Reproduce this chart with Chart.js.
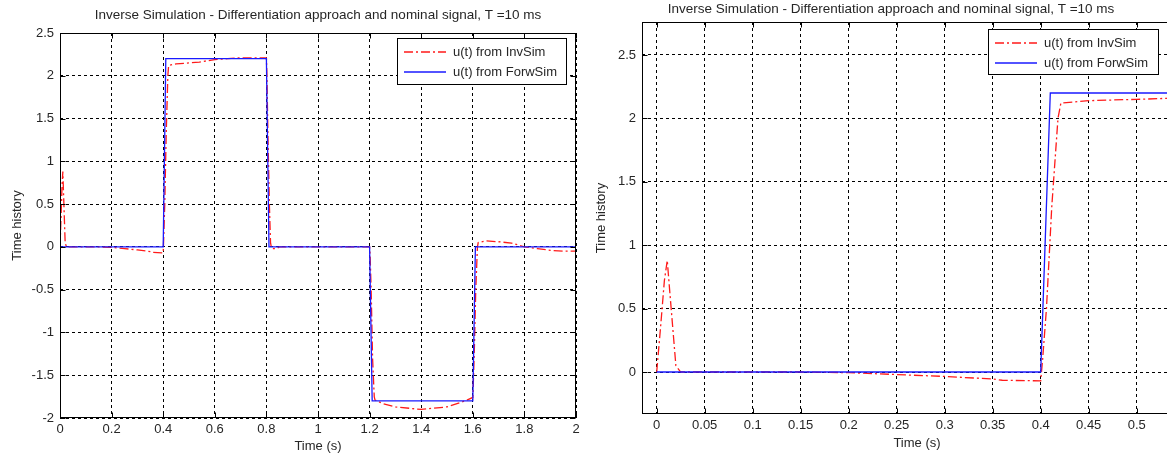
<!DOCTYPE html>
<html>
<head>
<meta charset="utf-8">
<title>Inverse Simulation</title>
<script src="https://cdn.jsdelivr.net/npm/chart.js@4.4.0/dist/chart.umd.min.js"></script>
<style>
  html, body { margin: 0; padding: 0; background: #fff; overflow: hidden; width: 1167px; height: 456px; }
  .plot { position: absolute; top: 0; height: 456px; }
  #leftBox { left: 0; width: 636px; }
  #rightBox { left: 590px; width: 602px; }
</style>
</head>
<body>
<div class="plot" id="leftBox"><canvas id="leftChart"></canvas></div>
<div class="plot" id="rightBox"><canvas id="rightChart"></canvas></div>
<script>
const chartTitle = "Inverse Simulation - Differentiation approach and nominal signal, T =10 ms";
const xAxisLabel = "Time (s)";
const yAxisLabel = "Time history";
const seriesNames = ["u(t) from InvSim", "u(t) from ForwSim"];

// u(t) from InvSim (red, dash-dot)
const invTime = [0, 0.004, 0.008, 0.011, 0.014, 0.02, 0.025, 0.15, 0.2, 0.25, 0.3, 0.35, 0.36, 0.4,
  0.402, 0.406, 0.4115, 0.418, 0.421, 0.45, 0.5, 0.54, 0.6, 0.65, 0.7, 0.8,
  0.802, 0.806, 0.8115, 0.816, 0.82, 0.84, 0.85, 1.2,
  1.202, 1.206, 1.2115, 1.218, 1.221, 1.25, 1.3, 1.4, 1.5, 1.57, 1.6,
  1.602, 1.606, 1.6115, 1.618, 1.621, 1.65, 1.7, 1.75, 1.8, 1.85, 1.9, 1.95, 2.0];
const invValue = [0, 0.35, 0.72, 0.88, 0.6, 0.05, 0, 0, -0.005, -0.02, -0.035, -0.055, -0.065, -0.07,
  0.1, 0.5, 1.3, 2.0, 2.12, 2.14, 2.15, 2.16, 2.19, 2.2, 2.21, 2.21,
  2.0, 1.3, 0.5, 0.05, -0.02, -0.02, 0, 0,
  -0.1, -0.5, -1.3, -1.75, -1.79, -1.83, -1.87, -1.9, -1.87, -1.8, -1.76,
  -1.6, -1.2, -0.5, 0.0, 0.05, 0.07, 0.06, 0.045, 0.0, -0.02, -0.04, -0.05, -0.05];

// u(t) from ForwSim (blue, solid)
const fwdTime = [0, 0.4, 0.41, 0.8, 0.81, 1.2, 1.21, 1.6, 1.61, 2.0];
const fwdValue = [0, 0, 2.2, 2.2, 0, 0, -1.8, -1.8, 0, 0];

const leftXTicks = [0, 0.2, 0.4, 0.6, 0.8, 1, 1.2, 1.4, 1.6, 1.8, 2];
const leftYTicks = [-2, -1.5, -1, -0.5, 0, 0.5, 1, 1.5, 2, 2.5];
const rightXTicks = [0, 0.05, 0.1, 0.15, 0.2, 0.25, 0.3, 0.35, 0.4, 0.45, 0.5];
const rightYTicks = [0, 0.5, 1, 1.5, 2, 2.5];

Chart.defaults.font.family = "'Liberation Sans', Arial, sans-serif";
Chart.defaults.font.size = 13;
Chart.defaults.color = "#262626";

const fmt = v => String(Number(v.toFixed(2)));

// axes box with inward tick marks, like the original figure
const axesFrame = {
  id: "axesFrame",
  afterDatasetsDraw(chart) {
    const { ctx, chartArea: a, scales } = chart;
    const L = Math.round(a.left) + 0.5, R = Math.round(a.right) - 0.5;
    const T = Math.round(a.top) + 0.5, B = Math.round(a.bottom) - 0.5;
    ctx.save();
    ctx.strokeStyle = "#000";
    ctx.lineWidth = 1;
    ctx.strokeRect(L, T, R - L, B - T);
    ctx.beginPath();
    scales.x.ticks.forEach(t => {
      const px = Math.round(scales.x.getPixelForValue(t.value)) + 0.5;
      ctx.moveTo(px, B); ctx.lineTo(px, B - 5);
      ctx.moveTo(px, T); ctx.lineTo(px, T + 5);
    });
    scales.y.ticks.forEach(t => {
      const py = Math.round(scales.y.getPixelForValue(t.value)) + 0.5;
      ctx.moveTo(L, py); ctx.lineTo(L + 5, py);
      ctx.moveTo(R, py); ctx.lineTo(R - 5, py);
    });
    ctx.stroke();
    ctx.restore();
  }
};

// boxed legend drawn inside the axes
const boxLegend = {
  id: "boxLegend",
  afterDraw(chart, args, o) {
    const ctx = chart.ctx;
    ctx.save();
    ctx.fillStyle = "#fff";
    ctx.fillRect(o.x, o.y, o.w, o.h);
    ctx.strokeStyle = "#000";
    ctx.lineWidth = 1;
    ctx.strokeRect(o.x + 0.5, o.y + 0.5, o.w, o.h);
    chart.data.datasets.forEach((ds, i) => {
      const cy = o.y + o.rowTop + i * o.rowGap;
      ctx.strokeStyle = ds.borderColor;
      ctx.lineWidth = ds.borderWidth;
      ctx.setLineDash(ds.borderDash || []);
      ctx.beginPath();
      ctx.moveTo(o.x + o.sampleX, cy);
      ctx.lineTo(o.x + o.sampleX + o.sampleLen, cy);
      ctx.stroke();
      ctx.setLineDash([]);
      ctx.fillStyle = "#262626";
      ctx.font = "13px 'Liberation Sans', Arial, sans-serif";
      ctx.textBaseline = "middle";
      ctx.fillText(ds.label, o.x + o.textX, cy);
    });
    ctx.restore();
  }
};

function buildChart(canvasId, s) {
  return new Chart(document.getElementById(canvasId), {
    type: "line",
    data: {
      datasets: [
        {
          label: seriesNames[0],
          data: invTime.map((t, i) => ({ x: t, y: invValue[i] })),
          borderColor: "#ff1a1a",
          borderWidth: 1.3,
          borderDash: [9, 3, 2, 3],
          pointRadius: 0,
          tension: 0,
          order: 1
        },
        {
          label: seriesNames[1],
          data: fwdTime.map((t, i) => ({ x: t, y: fwdValue[i] })),
          borderColor: "#1a1aff",
          borderWidth: 1.3,
          pointRadius: 0,
          tension: 0,
          order: 0
        }
      ]
    },
    options: {
      responsive: true,
      maintainAspectRatio: false,
      animation: false,
      devicePixelRatio: 1,
      layout: { padding: { left: 0, right: s.padRight, top: 0, bottom: 0 } },
      scales: {
        x: {
          type: "linear",
          min: s.xMin,
          max: s.xMax,
          afterBuildTicks: sc => { sc.ticks = s.xTicks.map(v => ({ value: v })); },
          afterFit: sc => { sc.height = s.xAxisHeight; },
          ticks: { callback: v => fmt(v), padding: 4, maxRotation: 0, minRotation: 0, autoSkip: false },
          grid: { color: "#000", lineWidth: 1, drawTicks: false },
          border: { display: false, dash: [3, 3] },
          title: { display: true, text: xAxisLabel, padding: { top: 0, bottom: s.xTitlePad } }
        },
        y: {
          type: "linear",
          min: s.yMin,
          max: s.yMax,
          afterBuildTicks: sc => { sc.ticks = s.yTicks.map(v => ({ value: v })); },
          afterFit: sc => { sc.width = s.yAxisWidth; },
          ticks: { callback: v => fmt(v), padding: 6, autoSkip: false },
          grid: { color: "#000", lineWidth: 1, drawTicks: false },
          border: { display: false, dash: [3, 3] },
          title: { display: true, text: yAxisLabel, padding: { top: s.yTitlePad, bottom: 0 } }
        }
      },
      plugins: {
        title: {
          display: true,
          text: chartTitle,
          fullSize: s.titleFull,
          font: { size: 13.5, weight: "normal" },
          color: "#262626",
          padding: { top: s.titleTop, bottom: s.titleBottom }
        },
        legend: { display: false },
        tooltip: { enabled: false },
        boxLegend: s.legend
      }
    },
    plugins: [axesFrame, boxLegend]
  });
}

buildChart("leftChart", {
  xMin: 0, xMax: 2, yMin: -2, yMax: 2.5,
  xTicks: leftXTicks, yTicks: leftYTicks,
  padRight: 60, yAxisWidth: 60, xAxisHeight: 38,
  titleFull: false, titleTop: 6.9, titleBottom: 9.9, xTitlePad: 1.8, yTitlePad: 9.2,
  legend: { x: 397, y: 38, w: 169, h: 46, rowTop: 14, rowGap: 20, sampleX: 7, sampleLen: 42, textX: 56 }
});

buildChart("rightChart", {
  xMin: -0.0153, xMax: 0.5576, yMin: -0.331, yMax: 2.76,
  xTicks: rightXTicks, yTicks: rightYTicks,
  padRight: 0, yAxisWidth: 52, xAxisHeight: 42,
  titleFull: true, titleTop: 0.9, titleBottom: 4.9, xTitlePad: 4.8, yTitlePad: 3.2,
  legend: { x: 398, y: 29, w: 170, h: 45, rowTop: 14, rowGap: 20, sampleX: 7, sampleLen: 42, textX: 56 }
});
</script>
</body>
</html>
